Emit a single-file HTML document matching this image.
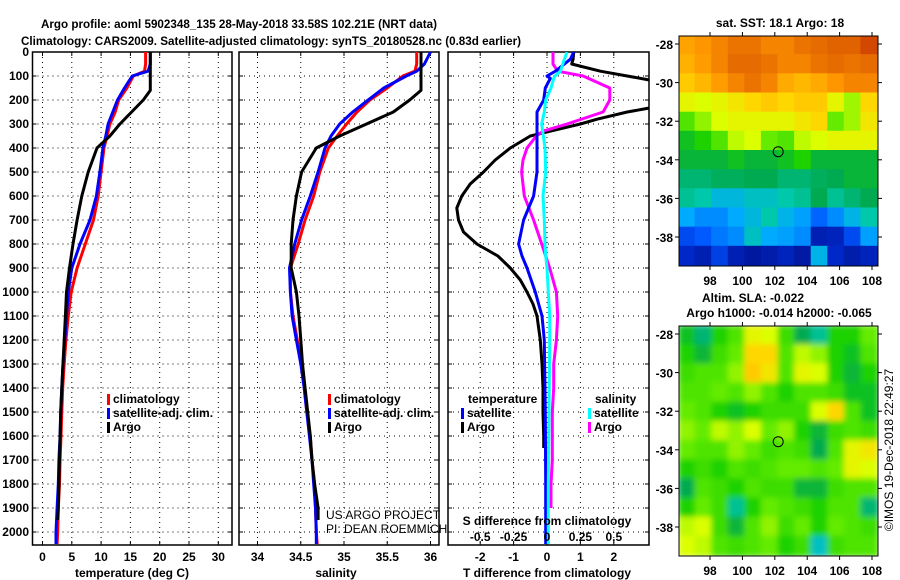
<!DOCTYPE html>
<html><head><meta charset="utf-8"><style>
html,body{margin:0;padding:0;background:#fff;}
svg{display:block;font-family:"Liberation Sans",sans-serif;}
.b{font-weight:bold;font-size:12px;}
</style></head><body>
<svg id="chart" width="900" height="580" viewBox="0 0 900 580" xmlns="http://www.w3.org/2000/svg">
<text x="41" y="28" class="b" font-size="14" textLength="396" lengthAdjust="spacingAndGlyphs">Argo profile: aoml 5902348_135 28-May-2018 33.58S 102.21E (NRT data)</text>
<text x="21" y="45" class="b" font-size="14" textLength="500" lengthAdjust="spacingAndGlyphs">Climatology: CARS2009. Satellite-adjusted climatology: synTS_20180528.nc (0.83d earlier)</text>
<g id="g"></g>
</svg>
<script>
// ---------- data ----------
const depths = [0,50,80,100,150,200,250,300,350,400,500,600,700,800,900,1000,1100,1200,1300,1400,1500,1600,1700,1800,1900,2000,2050];
const tempClim = [17.6,17.6,17.4,15.5,14.4,13.0,12.4,11.5,11.0,10.5,10.0,9.5,8.7,7.3,5.9,4.9,4.4,4.0,3.7,3.45,3.3,3.15,3.0,2.9,2.7,2.6,2.5];
const tempSat  = [18.4,18.4,18.0,15.3,14.0,12.8,12.0,11.2,10.8,10.3,9.8,9.2,8.1,6.4,5.0,4.4,4.1,3.8,3.5,3.3,3.1,3.0,2.8,2.7,2.5,2.3,2.3];
const argoDepths = [0,50,100,160,200,250,300,350,400,500,600,700,800,900,1000,1100,1200,1300,1400,1500,1600,1700,1800,1900,1950];
const tempArgo = [18.4,18.4,18.4,18.4,17.2,15.2,13.2,11.5,9.3,7.8,6.7,5.9,5.2,4.6,4.1,3.9,3.7,3.5,3.3,3.1,3.0,2.9,2.8,2.7,2.6];
const salClim = [35.84,35.84,35.82,35.68,35.5,35.3,35.15,35.03,34.92,34.82,34.72,34.65,34.55,34.47,34.38,34.38,34.41,34.46,34.51,34.54,34.57,34.61,34.63,34.66,34.67,34.68,34.69];
const salSat  = [36.0,35.93,35.84,35.72,35.46,35.28,35.1,34.95,34.85,34.78,34.70,34.61,34.51,34.43,34.37,34.38,34.40,34.45,34.5,34.54,34.57,34.6,34.63,34.65,34.67,34.68,34.68];
const salArgo = [35.89,35.89,35.89,35.89,35.76,35.57,35.26,34.95,34.68,34.51,34.45,34.41,34.39,34.39,34.45,34.48,34.5,34.52,34.55,34.58,34.61,34.63,34.66,34.7,34.7];
const diffDepths = [0,30,50,80,100,120,150,200,230,250,280,300,330,350,400,450,500,550,600,650,700,750,800,850,900,950,1000,1050,1100,1200,1300,1400,1500,1600,1650];
const dTArgo = [0.8,0.78,0.74,1.6,2.4,3.2,3.6,3.6,3.2,2.4,1.5,1.0,0.1,-0.5,-1.1,-1.55,-1.9,-2.3,-2.55,-2.7,-2.65,-2.5,-2.1,-1.47,-1.1,-0.8,-0.6,-0.42,-0.3,-0.2,-0.15,-0.12,-0.12,-0.1,-0.1];
const satDepths = [0,30,80,100,110,150,200,250,300,400,500,600,700,800,850,900,1000,1100,1200,1500,1800,2050];
const dTSat = [0.8,0.7,0.25,0,0.1,-0.05,-0.1,-0.3,-0.3,-0.3,-0.3,-0.4,-0.7,-0.85,-0.75,-0.6,-0.35,-0.15,-0.08,-0.05,-0.04,-0.04];
const dSSat = [0.15,0.13,0.1,0.06,0.05,0.03,-0.01,-0.02,-0.04,-0.015,-0.01,-0.03,-0.02,-0.015,-0.01,0.0,0.01,0.02,0.02,0.015,0.01,0.01];
const magDepths = [0,50,80,100,150,200,250,300,330,350,400,450,500,600,700,800,900,1000,1100,1200,1300,1400,1500,1600,1700,1800,1900];
const dSArgo = [0.045,0.045,0.08,0.27,0.47,0.47,0.42,0.15,-0.03,-0.08,-0.15,-0.18,-0.19,-0.17,-0.1,-0.04,0.02,0.07,0.08,0.07,0.05,0.05,0.04,0.04,0.04,0.03,0.03];
const depthTicks = [0,100,200,300,400,500,600,700,800,900,1000,1100,1200,1300,1400,1500,1600,1700,1800,1900,2000];
const tempTicks = [0,5,10,15,20,25,30];
const salTicks = [34,34.5,35,35.5,36];
const dTTicks = [-2,-1,0,1,2];
const dSTicks = [-0.5,-0.25,0,0.25,0.5];
const dSTickLabels = ['-0.5','-0.25','0','0.25','0.5'];
const latTicks = [-28,-30,-32,-34,-36,-38];
const lonTicks = [98,100,102,104,106,108];
const floatLon = 102.21, floatLat = -33.58;
const sstGrid = [
[.86,.88,.9,.92,.92,.9,.9,.92,.93,.94,.94,.96],
[.84,.87,.9,.93,.93,.92,.9,.9,.92,.93,.92,.93],
[.8,.83,.87,.9,.92,.9,.85,.83,.85,.88,.9,.9],
[.72,.7,.72,.75,.78,.8,.78,.8,.8,.72,.66,.78],
[.6,.65,.7,.72,.72,.72,.72,.75,.78,.62,.66,.75],
[.52,.55,.6,.68,.7,.62,.6,.68,.7,.72,.72,.72],
[.5,.5,.5,.52,.5,.5,.52,.55,.5,.5,.5,.5],
[.45,.45,.47,.47,.48,.48,.45,.45,.47,.48,.5,.5],
[.42,.4,.36,.36,.38,.38,.4,.42,.48,.42,.45,.48],
[.33,.3,.3,.33,.36,.4,.35,.32,.26,.3,.35,.4],
[.22,.25,.28,.3,.38,.33,.32,.3,.1,.12,.22,.32],
[.15,.1,.2,.1,.05,.08,.12,.06,.35,.15,.08,.12]];
const slaGrid = [
[.52,.45,.55,.6,.72,.7,.58,.48,.42,.55,.55,.62],
[.55,.5,.58,.62,.78,.78,.6,.68,.65,.55,.52,.6],
[.58,.6,.6,.65,.8,.75,.6,.72,.7,.55,.5,.55],
[.6,.6,.62,.6,.65,.6,.55,.6,.6,.58,.52,.52],
[.62,.6,.55,.52,.55,.58,.58,.58,.7,.78,.6,.52],
[.65,.62,.68,.65,.7,.62,.65,.55,.5,.58,.6,.58],
[.62,.6,.6,.65,.62,.58,.6,.58,.48,.6,.72,.75],
[.55,.58,.55,.6,.58,.6,.62,.62,.6,.62,.72,.7],
[.48,.6,.58,.55,.6,.58,.58,.5,.5,.58,.6,.6],
[.55,.62,.58,.42,.55,.62,.6,.58,.55,.6,.6,.45],
[.68,.7,.58,.5,.6,.65,.58,.62,.55,.62,.6,.58],
[.7,.68,.6,.58,.6,.62,.55,.58,.38,.58,.6,.6]];

// ---------- helpers ----------
const NS='http://www.w3.org/2000/svg';
const G=document.getElementById('g');
function mk(tag,attrs,parent){const e=document.createElementNS(NS,tag);for(const k in attrs)e.setAttribute(k,attrs[k]);(parent||G).appendChild(e);return e;}
function txt(x,y,s,anchor,size,bold,parent){const t=mk('text',{x:x,y:y,'text-anchor':anchor||'start','font-size':size||12,'font-weight':bold===false?'normal':'bold'},parent);t.textContent=s;return t;}
const Y=d=>52+0.24*d;
const PB=545;
const xT=v=>42.5+5.86*v;
const xS=v=>257.5+86.5*(v-34);
const xDT=v=>547+33.4*v;
const xDS=v=>547+133.6*v;

function panel(name,x0,x1,xTicksPx,showY){
  const g=mk('g',{});
  
  
  mk('rect',{x:x0,y:52,width:x1-x0,height:PB-52,fill:'#fff',stroke:'#000','stroke-width':1.5},g);
  depthTicks.forEach(d=>{
    mk('line',{x1:x0,x2:x1,y1:Y(d),y2:Y(d),stroke:'#000','stroke-width':1,'stroke-dasharray':'1,4'},g);
    mk('line',{x1:x0,x2:x0+4,y1:Y(d),y2:Y(d),stroke:'#000'},g);
    mk('line',{x1:x1-4,x2:x1,y1:Y(d),y2:Y(d),stroke:'#000'},g);
    if(showY){const t=txt(29,Y(d)+4,String(d),'end',12,true,g);}
  });
  xTicksPx.forEach(px=>{
    mk('line',{x1:px,x2:px,y1:52,y2:PB,stroke:'#000','stroke-width':1,'stroke-dasharray':'1,4'},g);
    mk('line',{x1:px,x2:px,y1:PB-4,y2:PB,stroke:'#000'},g);
    mk('line',{x1:px,x2:px,y1:52,y2:56,stroke:'#000'},g);
  });
  return g;
}
function line(xs,ds,xf,color,w,name,parent){
  const pts=xs.map((v,i)=>xf(v).toFixed(1)+','+Y(ds[i]).toFixed(1)).join(' ');
  const p=mk('polyline',{points:pts,fill:'none',stroke:color,'stroke-width':w,'stroke-linejoin':'round'},parent);
  
  
  return p;
}
function legend(x,y,color,label,parent){
  mk('rect',{x:x,y:y-9,width:3,height:11,fill:color},parent);
  const t=txt(x+6,y,label,'start',12,true,parent);
  
  
}

// ---------- panel 1: temperature ----------
const p1=panel('temperature-panel',32.5,232,tempTicks.map(xT),true);
const cp1=mk('clipPath',{id:'c1'},p1);mk('rect',{x:33,y:52,width:199,height:493},cp1);
const c1=mk('g',{'clip-path':'url(#c1)'},p1);
line(tempClim,depths,xT,'#ff0000',3,'temp-climatology-line',c1);
line(tempSat,depths,xT,'#0000ff',3,'temp-satellite-line',c1);
line(tempArgo,argoDepths,xT,'#000000',3,'temp-argo-line',c1);
tempTicks.forEach(v=>{const t=txt(xT(v),561,String(v),'middle',12,true,p1);});
{const t=txt(132,577,'temperature (deg C)','middle',12,true,p1);}
legend(107,403,'#ff0000','climatology',p1);
legend(107,417,'#0000ff','satellite-adj. clim.',p1);
legend(107,431,'#000000','Argo',p1);

// ---------- panel 2: salinity ----------
const p2=panel('salinity-panel',239,439,salTicks.map(xS),false);
line(salClim,depths,xS,'#ff0000',3,'sal-climatology-line',p2);
line(salSat,depths,xS,'#0000ff',3,'sal-satellite-line',p2);
line(salArgo,argoDepths,xS,'#000000',3,'sal-argo-line',p2);
salTicks.forEach(v=>{const t=txt(xS(v),561,String(v),'middle',12,true,p2);});
{const t=txt(336,577,'salinity','middle',12,true,p2);}
legend(328,403,'#ff0000','climatology',p2);
legend(328,417,'#0000ff','satellite-adj. clim.',p2);
legend(328,431,'#000000','Argo',p2);
{const t=txt(326,519,'US ARGO PROJECT','start',12,false,p2);
 const t2=txt(326,533,'PI: DEAN ROEMMICH','start',12,false,p2);}

// ---------- panel 3: differences ----------
const p3=panel('difference-panel',448,649,dTTicks.map(xDT),false);
const cp=mk('clipPath',{id:'c3'},p3);mk('rect',{x:448,y:52,width:201,height:493},cp);
const c3=mk('g',{'clip-path':'url(#c3)'},p3);
line(dTArgo,diffDepths,xDT,'#000000',3,'dT-argo-line',c3);
line(dSArgo,magDepths,xDS,'#ff00ff',3,'dS-argo-line',c3);
line(dTSat,satDepths,xDT,'#0000ff',3,'dT-satellite-line',c3);
line(dSSat,satDepths,xDS,'#00ffff',3,'dS-satellite-line',c3);
dTTicks.forEach(v=>{const t=txt(xDT(v),561,String(v),'middle',12,true,p3);});
dSTicks.forEach((v,i)=>{const t=txt(xDS(v),541,dSTickLabels[i],'middle',12,true,p3);});
{const t=txt(547,525,'S difference from climatology','middle',12,true,p3);
 const t2=txt(547,577,'T difference from climatology','middle',12,true,p3);}
{const t=txt(468,403,'temperature','start',12,true,p3);
 const t2=txt(595,403,'salinity','start',12,true,p3);}
legend(461,417,'#0000ff','satellite',p3);
legend(461,431,'#000000','Argo',p3);
legend(588,417,'#00ffff','satellite',p3);
legend(588,431,'#ff00ff','Argo',p3);

// ---------- maps ----------
const cstops=[[0,[0,16,140]],[0.15,[0,40,200]],[0.25,[0,90,255]],[0.33,[0,170,255]],[0.4,[0,200,170]],[0.48,[0,170,80]],[0.55,[30,210,0]],[0.62,[100,235,0]],[0.7,[220,255,0]],[0.78,[255,215,0]],[0.88,[255,150,0]],[0.95,[220,90,0]],[1,[170,0,0]]];
function cmap(v){for(let i=1;i<cstops.length;i++){if(v<=cstops[i][0]){const a=cstops[i-1],b=cstops[i],f=(v-a[0])/(b[0]-a[0]);return 'rgb('+a[1].map((c,j)=>Math.round(c+f*(b[1][j]-c))).join(',')+')';}}return 'rgb(170,0,0)';}
function map(name,grid,top,bot,latAt28,smooth){
  const x0=679,x1=878;
  const g=mk('g',{});
  
  
  const lonX=lon=>710+16.2*(lon-98);
  const latY=lat=>latAt28+19.3*(-28-lat);
  const cp=mk('clipPath',{id:'cp'+name},g);mk('rect',{x:x0,y:top,width:x1-x0,height:bot-top},cp);
  const cg=mk('g',{'clip-path':'url(#cp'+name+')'},g);
  const ig=smooth?mk('g',{filter:'url(#blur)'},cg):cg;
  const nr=grid.length,nc=grid[0].length,cw=(x1-x0)/nc,ch=(bot-top)/nr;
  grid.forEach((row,r)=>row.forEach((v,c)=>{
    const cell=mk('rect',{x:(x0+c*cw-1).toFixed(1),y:(top+r*ch-1).toFixed(1),width:(cw+2).toFixed(1),height:(ch+2).toFixed(1),fill:cmap(v)},ig);
    
    
  }));
  mk('rect',{x:x0,y:top,width:x1-x0,height:bot-top,fill:'none',stroke:'#000','stroke-width':1},g);
  latTicks.forEach(l=>{mk('line',{x1:x0-4,x2:x0,y1:latY(l),y2:latY(l),stroke:'#000'},g);mk('line',{x1:x1,x2:x1+4,y1:latY(l),y2:latY(l),stroke:'#000'},g);
    const t=txt(673,latY(l)+5,String(l),'end',12,true,g);});
  lonTicks.forEach(l=>{mk('line',{x1:lonX(l),x2:lonX(l),y1:top-4,y2:top,stroke:'#000'},g);mk('line',{x1:lonX(l),x2:lonX(l),y1:bot,y2:bot+4,stroke:'#000'},g);
    const t=txt(lonX(l),bot+19,String(l),'middle',12,true,g);});
  const m=mk('circle',{cx:lonX(floatLon),cy:latY(floatLat),r:5,fill:'none',stroke:'#000','stroke-width':1},g);
  
  
  return g;
}
const defs=mk('defs',{});const f=mk('filter',{id:'blur',x:'-5%',y:'-5%',width:'110%',height:'110%'},defs);mk('feGaussianBlur',{stdDeviation:3},f);
map('sst-map',sstGrid,36,266,44,false);
map('sla-map',slaGrid,326,556,334,true);
{const t=txt(780,27,'sat. SST: 18.1 Argo: 18','middle',12,true);
 const t2=txt(753,302,'Altim. SLA: -0.022','middle',12,true);
 const t3=txt(779,317,'Argo h1000: -0.014 h2000: -0.065','middle',12,true);
 const t4=txt(0,0,'©IMOS 19-Dec-2018 22:49:27','middle',12,false);t4.setAttribute('transform','translate(893,450) rotate(-90)');}
</script>
</body></html>
